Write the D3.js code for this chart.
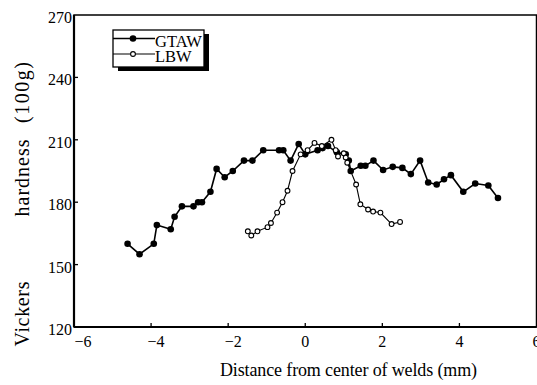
<!DOCTYPE html>
<html>
<head>
<meta charset="utf-8">
<script src="https://cdn.jsdelivr.net/npm/d3@7"></script>
<style>
  body { margin: 0; background: #fff; }
  text { font-family: 'Liberation Serif', 'Times New Roman', serif; fill: #000; }
</style>
</head>
<body>
<div id="chart"></div>
<script>
// Hardness profiles
var gtawX = [-4.61, -4.30, -3.93, -3.85, -3.49, -3.39, -3.20, -2.90, -2.78, -2.68, -2.46, -2.30, -2.09, -1.88, -1.59, -1.37, -1.09, -0.68, -0.57, -0.38, -0.17, 0.00, 0.32, 0.45, 0.59, 0.82, 1.05, 1.13, 1.18, 1.44, 1.56, 1.77, 2.02, 2.27, 2.52, 2.74, 2.98, 3.19, 3.41, 3.60, 3.78, 4.10, 4.41, 4.75, 5.00]
var gtawY = [160, 155, 160, 169, 167, 173, 178, 178, 180, 180, 185, 196, 192, 195, 200, 200, 205, 205, 205, 200, 208, 203, 205, 206, 207, 204, 203, 200, 195, 197.5, 197.5, 200, 195.5, 197, 196.5, 193.5, 200, 189.5, 188.5, 191, 193, 185, 189, 188, 182]

var lbwX = [-1.49, -1.40, -1.24, -0.98, -0.89, -0.73, -0.59, -0.46, -0.33, -0.12, 0.06, 0.24, 0.43, 0.68, 0.79, 0.85, 1.00, 1.05, 1.09, 1.32, 1.43, 1.63, 1.76, 1.95, 2.24, 2.46]
var lbwY = [166, 164, 166, 168, 170, 175, 180, 185.5, 195, 203, 205, 208.5, 207, 210, 205, 202, 203.5, 201.5, 199, 188.5, 179, 176.5, 175.5, 175, 169.5, 170.5]

var xTicks = [-6, -4, -2, 0, 2, 4, 6]
var yTicks = [120, 150, 180, 210, 240, 270]
var seriesNames = ['GTAW', 'LBW']

var width = 537
var height = 385
var margin = { top: 15, right: 0.5, bottom: 58, left: 74 }

var x = d3.scaleLinear().domain([-6, 6]).range([margin.left, width - margin.right])
var y = d3.scaleLinear().domain([120, 270]).range([height - margin.bottom, margin.top])

var svg = d3.select('#chart').append('svg')
  .attr('width', width)
  .attr('height', height)

// Frame
svg.append('rect')
  .attr('x', x(-6))
  .attr('y', y(270))
  .attr('width', x(6) - x(-6))
  .attr('height', y(120) - y(270))
  .attr('fill', 'none')
  .attr('stroke', '#000')
  .attr('stroke-width', 1.5)

svg.append('line')
  .attr('x1', x(-6)).attr('x2', x(-6))
  .attr('y1', y(270)).attr('y2', y(120))
  .attr('stroke', '#000').attr('stroke-width', 2.2)

svg.append('line')
  .attr('x1', x(-6)).attr('x2', x(6))
  .attr('y1', y(120)).attr('y2', y(120))
  .attr('stroke', '#000').attr('stroke-width', 2.2)

// Inward ticks
svg.selectAll('.ytick').data(yTicks.slice(1, -1)).enter().append('line')
  .attr('class', 'ytick')
  .attr('x1', x(-6)).attr('x2', x(-6) + 4)
  .attr('y1', function (d) { return y(d) }).attr('y2', function (d) { return y(d) })
  .attr('stroke', '#000').attr('stroke-width', 1.3)

svg.selectAll('.xtick').data(xTicks.slice(1, -1)).enter().append('line')
  .attr('class', 'xtick')
  .attr('x1', function (d) { return x(d) }).attr('x2', function (d) { return x(d) })
  .attr('y1', y(120)).attr('y2', y(120) - 4)
  .attr('stroke', '#000').attr('stroke-width', 1.3)

// Tick labels
svg.selectAll('.ylab').data(yTicks).enter().append('text')
  .attr('class', 'ylab')
  .attr('x', x(-6) - 2)
  .attr('y', function (d) { return y(d) + 8 })
  .attr('text-anchor', 'end')
  .style('font-size', '16px')
  .text(function (d) { return d })

svg.selectAll('.xlab').data(xTicks).enter().append('text')
  .attr('class', 'xlab')
  .attr('x', function (d) { return x(d) + (d === -6 ? 9 : d < 0 ? 5 : 0) })
  .attr('y', y(120) + 20)
  .attr('text-anchor', 'middle')
  .style('font-size', '16px')
  .text(function (d) { return d < 0 ? '\u2212' + Math.abs(d) : d })

// Axis titles
svg.append('text')
  .attr('x', 220)
  .attr('y', 376)
  .attr('textLength', 257)
  .attr('lengthAdjust', 'spacing')
  .style('font-size', '18px')
  .text('Distance from center of welds (mm)')

var yTitle = [
  { t: 'Vickers', c: 314, w: 65 },
  { t: 'hardness', c: 178, w: 77 },
  { t: '(100g)', c: 92.5, w: 61 }
]
svg.selectAll('.ytitle').data(yTitle).enter().append('text')
  .attr('class', 'ytitle')
  .attr('transform', function (d) { return 'translate(29,' + d.c + ') rotate(-90)' })
  .attr('text-anchor', 'middle')
  .attr('textLength', function (d) { return d.w })
  .attr('lengthAdjust', 'spacing')
  .style('font-size', '20px')
  .text(function (d) { return d.t })

// Series
var line = d3.line()
  .x(function (d) { return x(d[0]) })
  .y(function (d) { return y(d[1]) })

var gtaw = d3.zip(gtawX, gtawY)
var lbw = d3.zip(lbwX, lbwY)

svg.append('path')
  .datum(lbw)
  .attr('d', line)
  .attr('fill', 'none')
  .attr('stroke', '#000')
  .attr('stroke-width', 1.1)

svg.append('path')
  .datum(gtaw)
  .attr('d', line)
  .attr('fill', 'none')
  .attr('stroke', '#000')
  .attr('stroke-width', 1.6)

svg.selectAll('.gpt').data(gtaw).enter().append('circle')
  .attr('class', 'gpt')
  .attr('cx', function (d) { return x(d[0]) })
  .attr('cy', function (d) { return y(d[1]) })
  .attr('r', 3.3)
  .attr('fill', '#000')

svg.selectAll('.lpt').data(lbw).enter().append('circle')
  .attr('class', 'lpt')
  .attr('cx', function (d) { return x(d[0]) })
  .attr('cy', function (d) { return y(d[1]) })
  .attr('r', 2.4)
  .attr('fill', '#fff')
  .attr('stroke', '#000')
  .attr('stroke-width', 1.1)

// Legend with drop shadow
var legend = svg.append('g')
var lx = 113
var ly = 30
var lw = 91
var lh = 37

legend.append('rect')
  .attr('x', lx + 5).attr('y', ly + 4)
  .attr('width', lw).attr('height', lh)
  .attr('fill', '#000')

legend.append('rect')
  .attr('x', lx).attr('y', ly)
  .attr('width', lw).attr('height', lh)
  .attr('fill', '#fff')
  .attr('stroke', '#000')
  .attr('stroke-width', 1.3)

seriesNames.forEach(function (name, i) {
  var yy = ly + 8.5 + i * 15.5
  legend.append('line')
    .attr('x1', lx).attr('x2', lx + 42)
    .attr('y1', yy).attr('y2', yy)
    .attr('stroke', '#000')
    .attr('stroke-width', i === 0 ? 1.4 : 1.1)
  legend.append('circle')
    .attr('cx', lx + 20).attr('cy', yy)
    .attr('r', i === 0 ? 3.3 : 2.4)
    .attr('fill', i === 0 ? '#000' : '#fff')
    .attr('stroke', '#000')
    .attr('stroke-width', i === 0 ? 0 : 1.1)
  legend.append('text')
    .attr('x', lx + 42)
    .attr('y', yy + 8.2)
    .style('font-size', '16.5px')
    .text(name)
})
</script>
</body>
</html>
